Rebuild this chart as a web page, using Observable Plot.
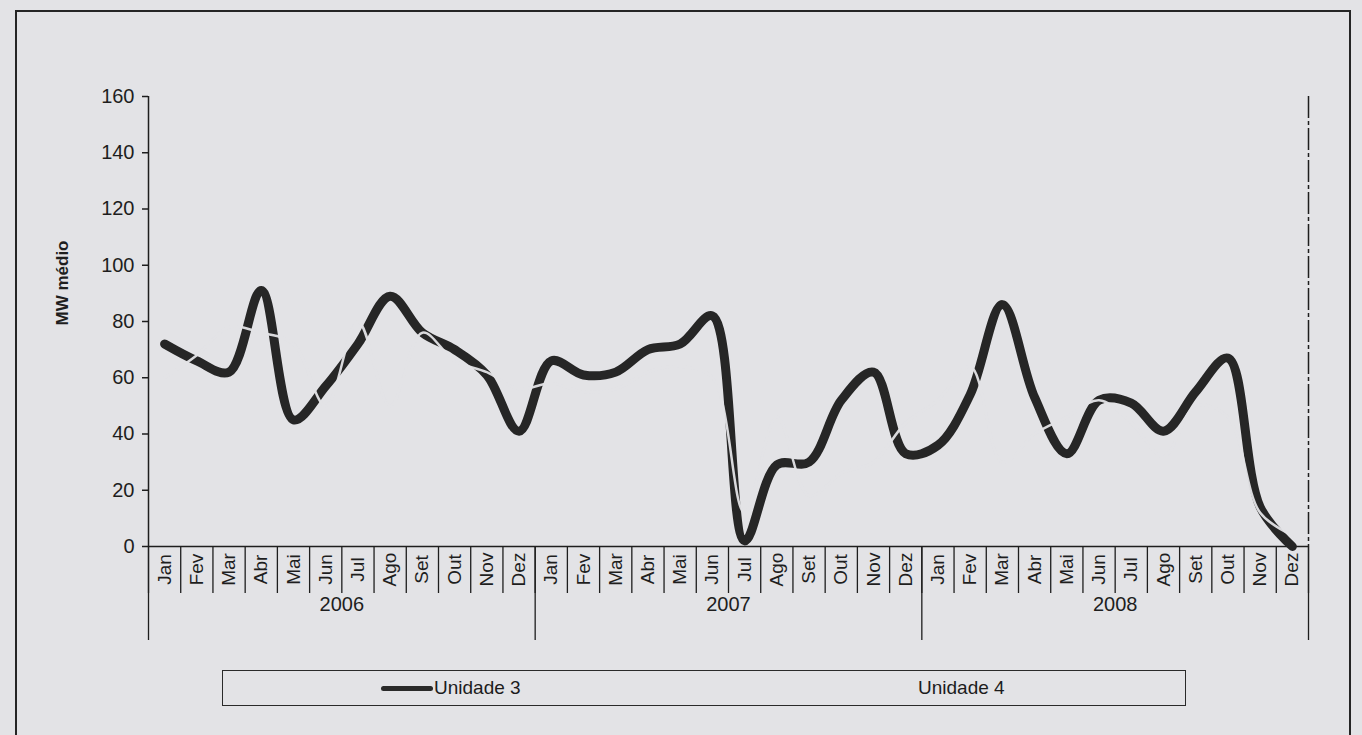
<!DOCTYPE html>
<html>
<head>
<meta charset="utf-8">
<script src="https://cdn.jsdelivr.net/npm/d3@7"></script>
<script src="https://cdn.jsdelivr.net/npm/@observablehq/plot@0.6"></script>
<style>
  html, body { margin: 0; padding: 0; background: #e3e3e6; width: 1362px; height: 735px; overflow: hidden; }
  body { position: relative; font-family: "Liberation Sans", Arial, sans-serif; color: #1c1c1c; }
  #frame { position: absolute; left: 15px; top: 10px; width: 1336px; height: 740px; border: 2px solid #252525; box-sizing: border-box; }
  #chart { position: absolute; left: 0; top: 0; }
  #legend { position: absolute; left: 222px; top: 670px; width: 964px; height: 36px; border: 1.5px solid #2a2a2a; box-sizing: border-box; font-size: 19px; }
  #legend .item { position: absolute; top: 6px; display: flex; align-items: center; }
  #legend .swatch { display: inline-block; width: 52px; height: 5px; border-radius: 3px; background: #2a2a2a; margin-right: 1px; }
</style>
</head>
<body>
<div id="frame"></div>
<div id="chart"></div>
<div id="legend">
  <div class="item" style="left:158px"><span class="swatch"></span><span>Unidade 3</span></div>
  <div class="item" style="left:695px"><span>Unidade 4</span></div>
</div>
<script>
const months = ["Jan","Fev","Mar","Abr","Mai","Jun","Jul","Ago","Set","Out","Nov","Dez"];
const years = ["2006","2007","2008"];
const yTicks = [0, 20, 40, 60, 80, 100, 120, 140, 160];
const unidade3 = [72,66,62,91,45,57,72,89,76,70,61,41, 66,61,62,70,72,82,2,29,30,52,62,33, 36,54,86,53,33,52,51,41,55,67,14,0];
const unidade4 = [60,68,78,76,72,50,80,50,76,66,62,56, 58,55,56,62,64,60,12,46,18,26,30,44, 52,64,30,40,46,52,44,32,50,46,12,4];

const rows = [];
years.forEach((yr, yi) => months.forEach((m, mi) => {
  const i = yi * 12 + mi;
  rows.push({pos: i + 0.5, month: m, year: yr, u3: unidade3[i], u4: unidade4[i]});
}));
const yearRows = years.map((yr, yi) => ({pos: yi * 12 + 6, year: yr}));
const monthBounds = d3.range(0, rows.length + 1);
const yearBounds = d3.range(0, rows.length + 1, 12);

const ink = "#1e1e1e";
const bg = "#e3e3e6";
const font = "Liberation Sans, Arial, sans-serif";

const plot = Plot.plot({
  width: 1362,
  height: 655,
  marginLeft: 148,
  marginRight: 54,
  marginTop: 96,
  marginBottom: 109,
  style: {background: "transparent", fontFamily: font, color: ink, overflow: "visible"},
  x: {domain: [0, rows.length], axis: null},
  y: {domain: [0, 160], axis: null},
  marks: [
    Plot.axisY({ticks: yTicks, tickSize: 6, tickPadding: 8, fontSize: 20, label: null, stroke: ink, strokeWidth: 1.5}),
    Plot.axisX({ticks: monthBounds, tickSize: 47, tickFormat: () => "", label: null, stroke: ink, strokeWidth: 1.3}),
    Plot.axisX({ticks: yearBounds, tickSize: 94, tickFormat: () => "", label: null, stroke: ink, strokeWidth: 1.3}),
    Plot.ruleX([0], {stroke: ink, strokeWidth: 1.5}),
    Plot.ruleX([rows.length], {stroke: ink, strokeWidth: 1.5, strokeDasharray: "22,3,4,3"}),
    Plot.ruleY([0], {stroke: ink, strokeWidth: 1.5}),
    Plot.text(rows, {x: "pos", y: () => 0, text: "month", rotate: -90, dy: 23, textAnchor: "middle", fontSize: 19, fill: ink}),
    Plot.text(yearRows, {x: "pos", y: () => 0, text: "year", dy: 58, fontSize: 20, fill: ink}),
    Plot.text(["MW médio"], {frameAnchor: "left", dx: -86, dy: 4, rotate: -90, fontSize: 17, fill: ink, fontWeight: "bold"}),
    Plot.line(rows, {x: "pos", y: "u3", curve: "catmull-rom", stroke: "#262626", strokeWidth: 9, strokeLinejoin: "round", strokeLinecap: "round"}),
    Plot.line(rows, {x: "pos", y: "u4", curve: "catmull-rom", stroke: bg, strokeWidth: 2.5, strokeOpacity: 0.95})
  ]
});
document.getElementById("chart").appendChild(plot);
</script>
</body>
</html>
